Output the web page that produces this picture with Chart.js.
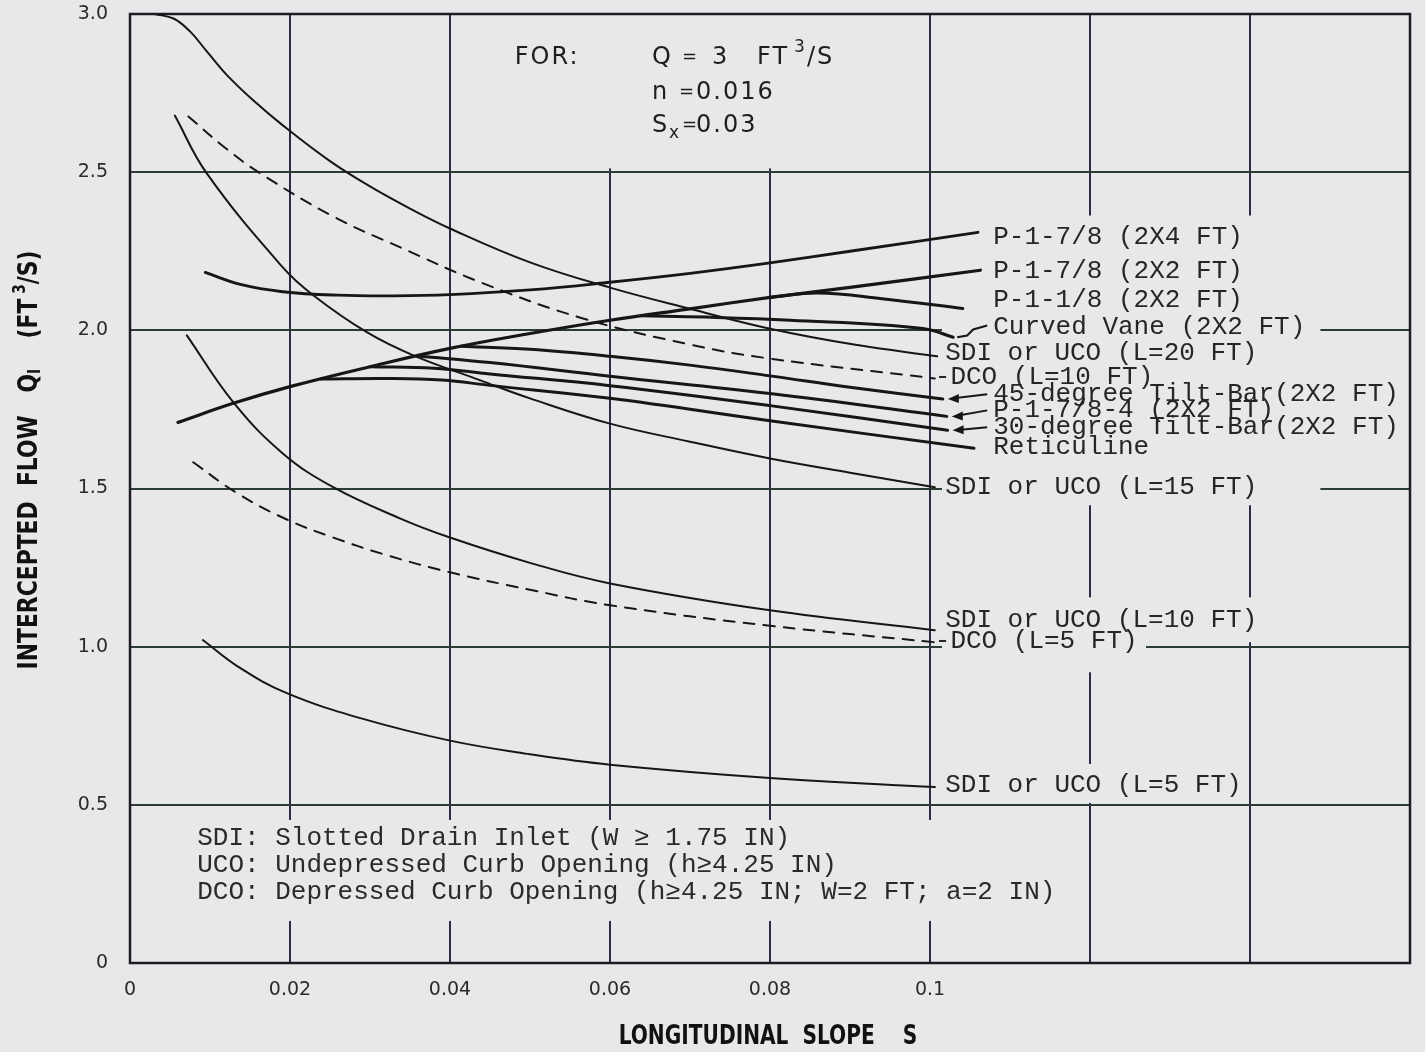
<!DOCTYPE html>
<html>
<head>
<meta charset="utf-8">
<script src="https://cdn.jsdelivr.net/npm/chart.js@4.4.0/dist/chart.umd.min.js"></script>
<style>
html, body { margin: 0; padding: 0; background: #e8e8ea; }
canvas { display: block; }
</style>
</head>
<body>
<canvas id="chartInlet" width="1425" height="1052"></canvas>
<script>
// [longitudinal slope S, intercepted flow Qi (ft3/s)]
var sdi20 = [[0.0031,3.0],[0.0055,2.985],[0.0075,2.945],[0.0095,2.885],[0.012,2.81],[0.0154,2.727],[0.0191,2.648],[0.025,2.535],[0.03,2.455],[0.035,2.385],[0.04,2.322],[0.05,2.215],[0.06,2.135],[0.07,2.068],[0.08,2.005],[0.0905,1.955],[0.1009,1.918]];
var dco10 = [[0.0073,2.676],[0.012,2.575],[0.0163,2.496],[0.0254,2.36],[0.0338,2.262],[0.0438,2.152],[0.0563,2.04],[0.07,1.955],[0.0796,1.912],[0.1006,1.848]];
var sdi15 = [[0.0056,2.679],[0.0096,2.496],[0.0191,2.199],[0.0229,2.111],[0.0296,1.994],[0.0354,1.921],[0.0438,1.842],[0.05,1.785],[0.06,1.705],[0.07,1.648],[0.08,1.595],[0.09,1.55],[0.1006,1.504]];
var sdi10 = [[0.0071,1.984],[0.0129,1.773],[0.0191,1.611],[0.0254,1.504],[0.0338,1.405],[0.04,1.345],[0.05,1.265],[0.06,1.2],[0.08,1.115],[0.1006,1.052]];
var dco5 = [[0.0079,1.583],[0.0134,1.485],[0.0196,1.402],[0.0254,1.345],[0.032,1.29],[0.04,1.235],[0.05,1.18],[0.06,1.131],[0.08,1.066],[0.1006,1.014]];
var sdi5 = [[0.0091,1.021],[0.0138,0.932],[0.0196,0.853],[0.0288,0.774],[0.04,0.703],[0.05,0.66],[0.06,0.627],[0.08,0.585],[0.1006,0.556]];
var p178x4 = [[0.0094,2.183],[0.0138,2.145],[0.0191,2.122],[0.026,2.111],[0.033,2.109],[0.04,2.113],[0.05,2.128],[0.06,2.152],[0.07,2.18],[0.08,2.213],[0.09,2.25],[0.106,2.31]];
var p178x2 = [[0.006,1.709],[0.013,1.77],[0.02,1.822],[0.03,1.885],[0.04,1.943],[0.05,1.99],[0.06,2.032],[0.07,2.068],[0.08,2.104],[0.09,2.136],[0.1063,2.19]];
var p118x2 = [[0.08,2.104],[0.086,2.118],[0.094,2.1],[0.1041,2.069]];
var curvedVane = [[0.064,2.046],[0.072,2.042],[0.0825,2.032],[0.0991,2.006],[0.1029,1.978]];
var tilt45 = [[0.0414,1.95],[0.05,1.94],[0.06,1.918],[0.07,1.89],[0.08,1.856],[0.09,1.82],[0.1016,1.783]];
var p1784 = [[0.0363,1.918],[0.045,1.898],[0.06,1.855],[0.08,1.8],[0.1021,1.728]];
var tilt30 = [[0.03,1.885],[0.038,1.88],[0.045,1.862],[0.06,1.825],[0.08,1.762],[0.1022,1.684]];
var reticuline = [[0.0238,1.846],[0.032,1.848],[0.039,1.843],[0.045,1.826],[0.06,1.785],[0.08,1.714],[0.1055,1.627]];

var xTickValues = [0, 0.02, 0.04, 0.06, 0.08, 0.1, 0.12, 0.14, 0.16];
var xTickLabels = ["0", "0.02", "0.04", "0.06", "0.08", "0.1", "", "", ""];
var yTickValues = [0, 0.5, 1.0, 1.5, 2.0, 2.5, 3.0];
var yTickLabels = ["0", "0.5", "1.0", "1.5", "2.0", "2.5", "3.0"];

var legendLines = [
    "SDI: Slotted Drain Inlet (W \u2265 1.75 IN)",
    "UCO: Undepressed Curb Opening (h\u22654.25 IN)",
    "DCO: Depressed Curb Opening (h\u22654.25 IN; W=2 FT; a=2 IN)"
];

var BG = "#e8e8ea";
var INK = "#161616";
var MONO = "26px 'Liberation Mono', 'DejaVu Sans Mono', monospace";

function pts(list) {
    return list.map(function (p) { return {x: p[0], y: p[1]}; });
}

function line(label, list, width, dash) {
    return {
        label: label,
        data: pts(list),
        borderColor: INK,
        borderWidth: width,
        borderDash: dash || [],
        pointRadius: 0,
        fill: false
    };
}

var datasets = [
    line("SDI or UCO (L=20 FT)", sdi20, 2),
    line("DCO (L=10 FT)", dco10, 2, [11, 9]),
    line("SDI or UCO (L=15 FT)", sdi15, 2),
    line("SDI or UCO (L=10 FT)", sdi10, 2),
    line("DCO (L=5 FT)", dco5, 2, [11, 9]),
    line("SDI or UCO (L=5 FT)", sdi5, 2),
    line("P-1-7/8 (2X4 FT)", p178x4, 2.8),
    line("P-1-7/8 (2X2 FT)", p178x2, 3.2),
    line("P-1-1/8 (2X2 FT)", p118x2, 3),
    line("Curved Vane (2X2 FT)", curvedVane, 3),
    line("45-degree Tilt-Bar(2X2 FT)", tilt45, 3),
    line("P-1-7/8-4 (2X2 FT)", p1784, 3),
    line("30-degree Tilt-Bar(2X2 FT)", tilt30, 3),
    line("Reticuline", reticuline, 3)
];

// right-hand curve labels: text, x, y (in chart units)
var curveLabels = [
    ["P-1-7/8 (2X4 FT)", 0.1079, 2.294],
    ["P-1-7/8 (2X2 FT)", 0.1079, 2.186],
    ["P-1-1/8 (2X2 FT)", 0.1079, 2.095],
    ["Curved Vane (2X2 FT)", 0.1079, 2.009],
    ["SDI or UCO (L=20 FT)", 0.1019, 1.927],
    ["-DCO (L=10 FT)", 0.1006, 1.851],
    ["45-degree Tilt-Bar(2X2 FT)", 0.1079, 1.798],
    ["P-1-7/8-4 (2X2 FT)", 0.1079, 1.747],
    ["30-degree Tilt-Bar(2X2 FT)", 0.1079, 1.694],
    ["Reticuline", 0.1079, 1.630],
    ["SDI or UCO (L=15 FT)", 0.1019, 1.504],
    ["SDI or UCO (L=10 FT)", 0.1019, 1.084],
    ["-DCO (L=5 FT)", 0.1006, 1.017],
    ["SDI or UCO (L=5 FT)", 0.1019, 0.562]
];

// paper-coloured patches where the printed grid is interrupted
var gridGaps = [
    [0.0403, 0.0990, 2.512, 3.0],
    [0.0006, 0.1185, 0.133, 0.452],
    [0.1015, 0.1488, 1.447, 2.363],
    [0.1488, 0.1588, 1.652, 1.836],
    [0.1015, 0.1425, 1.014, 1.156],
    [0.1015, 0.1270, 0.919, 1.052],
    [0.1015, 0.1385, 0.506, 0.629]
];

var paperPlugin = {
    id: "paper",
    beforeDraw: function (chart) {
        var ctx = chart.ctx;
        ctx.save();
        ctx.fillStyle = BG;
        ctx.fillRect(0, 0, chart.width, chart.height);
        ctx.restore();
    },
    beforeDatasetsDraw: function (chart) {
        var ctx = chart.ctx, xs = chart.scales.x, ys = chart.scales.y, a = chart.chartArea;
        ctx.save();
        ctx.fillStyle = BG;
        gridGaps.forEach(function (g) {
            var x0 = xs.getPixelForValue(g[0]), x1 = xs.getPixelForValue(g[1]);
            var y0 = ys.getPixelForValue(g[3]), y1 = ys.getPixelForValue(g[2]);
            ctx.fillRect(x0, y0, x1 - x0, y1 - y0);
        });
        ctx.strokeStyle = "#1c1c22";
        ctx.lineWidth = 2.5;
        ctx.strokeRect(a.left, a.top, a.right - a.left, a.bottom - a.top);
        ctx.restore();
    },
    afterDraw: function (chart) {
        var ctx = chart.ctx, xs = chart.scales.x, ys = chart.scales.y;
        function px(v) { return xs.getPixelForValue(v); }
        function py(v) { return ys.getPixelForValue(v); }
        ctx.save();

        // curve labels
        ctx.font = MONO;
        ctx.fillStyle = "#262626";
        ctx.textBaseline = "middle";
        ctx.textAlign = "left";
        curveLabels.forEach(function (l) {
            ctx.fillText(l[0], px(l[1]), py(l[2]));
        });

        // arrows from the tilt-bar / P-1-7/8-4 labels to their curve ends
        ctx.strokeStyle = INK;
        ctx.fillStyle = INK;
        ctx.lineWidth = 2;
        [[tilt45, 6], [p1784, 7], [tilt30, 8]].forEach(function (pair) {
            var end = pair[0][pair[0].length - 1];
            var lab = curveLabels[pair[1]];
            var x0 = px(lab[1]) - 6, y0 = py(lab[2]);
            var x1 = px(end[0]) + 5, y1 = py(end[1]);
            ctx.beginPath();
            ctx.moveTo(x0, y0);
            ctx.lineTo(x1 + 8, y1 - (y1 - y0) * 0.2);
            ctx.stroke();
            ctx.beginPath();
            ctx.moveTo(x1, y1);
            ctx.lineTo(x1 + 11, y1 - 5);
            ctx.lineTo(x1 + 11, y1 + 4);
            ctx.closePath();
            ctx.fill();
        });

        // curved vane leader
        var cv = curvedVane[curvedVane.length - 1];
        var lx = px(curveLabels[3][1]) - 6, ly = py(curveLabels[3][2]);
        var ex = px(cv[0]) + 4, ey = py(cv[1]);
        ctx.beginPath();
        ctx.moveTo(lx, ly - 2);
        ctx.lineTo(lx - 14, ly + 2);
        ctx.lineTo(lx - 20, ly + 8);
        ctx.lineTo(ex, ey);
        ctx.stroke();

        // abbreviations legend
        ctx.fillStyle = "#2a2a2a";
        legendLines.forEach(function (t, i) {
            ctx.fillText(t, px(0.0084), py(0.395 - i * 0.0855));
        });

        // design conditions
        ctx.fillStyle = "#1e1e1e";
        ctx.letterSpacing = "2px";
        var big = "24px 'DejaVu Sans', sans-serif";
        var small = "17px 'DejaVu Sans', sans-serif";
        var eq = "18px 'DejaVu Sans', sans-serif";
        var cx = px(0.06525);
        var r1 = py(2.862), r2 = py(2.752), r3 = py(2.648);
        ctx.font = big;
        ctx.fillText("FOR:", px(0.0481), r1);
        ctx.fillText("Q", cx, r1);
        ctx.fillText("3", cx + 60, r1);
        ctx.fillText("FT", cx + 105, r1);
        ctx.fillText("/S", cx + 155, r1);
        ctx.fillText("n", cx, r2);
        ctx.fillText("0.016", cx + 44, r2);
        ctx.fillText("S", cx, r3);
        ctx.fillText("0.03", cx + 44, r3);
        ctx.font = small;
        ctx.fillText("3", cx + 142, r1 - 10);
        ctx.fillText("x", cx + 17, r3 + 8);
        ctx.font = eq;
        ctx.fillText("=", cx + 30, r1);
        ctx.fillText("=", cx + 27, r2);
        ctx.fillText("=", cx + 30, r3);
        ctx.letterSpacing = "0px";

        // axis titles, condensed
        var tf = "bold 27px 'Liberation Sans Narrow', 'DejaVu Sans Condensed', sans-serif";
        var tfs = "bold 17px 'Liberation Sans Narrow', 'DejaVu Sans Condensed', sans-serif";
        ctx.fillStyle = "#111";
        ctx.font = tf;
        ctx.save();
        ctx.translate(768, 1037);
        ctx.scale(0.83, 1);
        ctx.textAlign = "center";
        ctx.fillText("LONGITUDINAL  SLOPE    S", 0, 0);
        ctx.restore();

        var parts = [
            ["INTERCEPTED  FLOW   Q", tf, 0],
            ["I", tfs, 6],
            ["    (FT", tf, 0],
            [" 3", tfs, -9],
            ["/S)", tf, 0]
        ];
        ctx.translate(30, 460);
        ctx.rotate(-Math.PI / 2);
        ctx.scale(0.9, 1);
        ctx.textAlign = "left";
        var total = 0;
        parts.forEach(function (p) { ctx.font = p[1]; total += ctx.measureText(p[0]).width; });
        var pos = -total / 2;
        parts.forEach(function (p) {
            ctx.font = p[1];
            ctx.fillText(p[0], pos, p[2]);
            pos += ctx.measureText(p[0]).width;
        });
        ctx.restore();
    }
};

var ctxInlet = document.getElementById("chartInlet").getContext("2d");
var chart = new Chart(ctxInlet, {
    type: "line",
    data: { datasets: datasets },
    plugins: [paperPlugin],
    options: {
        responsive: false,
        animation: false,
        devicePixelRatio: 1,
        parsing: false,
        layout: { padding: { left: 0, right: 15, top: 14, bottom: 0 } },
        plugins: {
            legend: { display: false },
            tooltip: { enabled: false }
        },
        elements: {
            line: { tension: 0.4, borderCapStyle: "round", borderJoinStyle: "round" },
            point: { radius: 0 }
        },
        scales: {
            x: {
                type: "linear",
                min: 0,
                max: 0.16,
                afterFit: function (s) { s.height = 89; s.paddingLeft = 0; s.paddingRight = 0; },
                afterBuildTicks: function (s) { s.ticks = xTickValues.map(function (v) { return {value: v}; }); },
                grid: { color: "#2b2b48", lineWidth: 2, drawTicks: false },
                border: { display: false },
                ticks: {
                    padding: 16,
                    color: "#2a2a2a",
                    font: { family: "'DejaVu Sans', sans-serif", size: 19 },
                    maxRotation: 0,
                    autoSkip: false,
                    callback: function (v, i) { return xTickLabels[i]; }
                }
            },
            y: {
                type: "linear",
                min: 0,
                max: 3,
                afterFit: function (s) { s.width = 130; s.paddingTop = 0; s.paddingBottom = 0; },
                afterBuildTicks: function (s) { s.ticks = yTickValues.map(function (v) { return {value: v}; }); },
                grid: { color: "#2c3b33", lineWidth: 2, drawTicks: false },
                border: { display: false },
                ticks: {
                    padding: 22,
                    color: "#2a2a2a",
                    font: { family: "'DejaVu Sans', sans-serif", size: 19 },
                    autoSkip: false,
                    callback: function (v, i) { return yTickLabels[i]; }
                }
            }
        }
    }
});
</script>
</body>
</html>
